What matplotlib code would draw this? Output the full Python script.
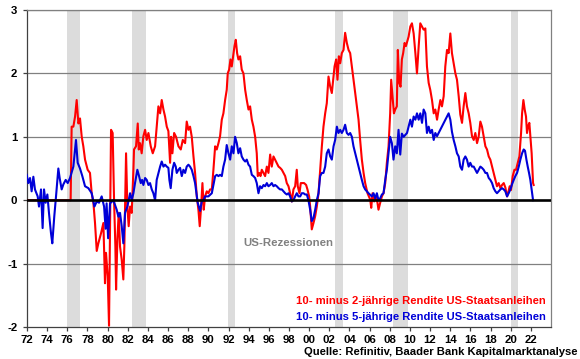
import matplotlib
matplotlib.use("Agg")
import matplotlib.pyplot as plt

plt.rcParams['font.family'] = ['Liberation Sans', 'DejaVu Sans']
plt.rcParams['font.weight'] = 'bold'
plt.rcParams['axes.unicode_minus'] = False

# ---- data ----
red_years = [1972.00, 1976.33, 1976.43, 1976.60, 1976.77, 1976.93, 1977.10, 1977.26, 1977.43, 1977.59,
             1977.76, 1978.02, 1978.25, 1978.42, 1978.59, 1978.75, 1978.92, 1979.08, 1979.35, 1979.58,
             1979.74, 1979.84, 1980.01, 1980.14, 1980.34, 1980.50, 1980.64, 1980.77, 1980.84, 1980.97,
             1981.10, 1981.23, 1981.40, 1981.56, 1981.66, 1981.83, 1981.96, 1982.09, 1982.23, 1982.39,
             1982.56, 1982.62, 1982.82, 1982.99, 1983.09, 1983.22, 1983.38, 1983.55, 1983.72, 1983.88,
             1984.05, 1984.28, 1984.48, 1984.71, 1984.87, 1985.04, 1985.21, 1985.37, 1985.54, 1985.70,
             1985.87, 1986.03, 1986.20, 1986.30, 1986.43, 1986.60, 1986.79, 1987.03, 1987.26, 1987.46,
             1987.69, 1987.85, 1988.02, 1988.18, 1988.35, 1988.52, 1988.68, 1988.85, 1989.01, 1989.14,
             1989.28, 1989.41, 1989.54, 1989.67, 1989.84, 1990.00, 1990.17, 1990.34, 1990.50, 1990.67,
             1990.83, 1991.00, 1991.16, 1991.33, 1991.49, 1991.66, 1991.82, 1991.92, 1992.06, 1992.19,
             1992.32, 1992.49, 1992.59, 1992.72, 1992.85, 1992.98, 1993.15, 1993.31, 1993.48, 1993.65,
             1993.81, 1993.98, 1994.14, 1994.31, 1994.47, 1994.64, 1994.80, 1994.90, 1995.04, 1995.17,
             1995.30, 1995.47, 1995.63, 1995.80, 1995.96, 1996.13, 1996.29, 1996.46, 1996.62, 1996.79,
             1996.96, 1997.12, 1997.29, 1997.45, 1997.62, 1997.78, 1997.95, 1998.11, 1998.28, 1998.44,
             1998.61, 1998.77, 1998.87, 1999.04, 1999.17, 1999.34, 1999.50, 1999.70, 1999.83, 2000.00,
             2000.10, 2000.26, 2000.43, 2000.60, 2000.76, 2000.93, 2001.09, 2001.26, 2001.42, 2001.59,
             2001.75, 2001.92, 2002.09, 2002.25, 2002.35, 2002.52, 2002.68, 2002.81, 2002.95, 2003.08,
             2003.24, 2003.41, 2003.57, 2003.74, 2003.91, 2004.07, 2004.24, 2004.40, 2004.57, 2004.73,
             2004.90, 2005.06, 2005.23, 2005.40, 2005.56, 2005.79, 2006.06, 2006.16, 2006.29, 2006.45,
             2006.62, 2006.78, 2006.88, 2007.05, 2007.22, 2007.38, 2007.55, 2007.71, 2007.88, 2008.04,
             2008.14, 2008.27, 2008.41, 2008.54, 2008.70, 2008.80, 2008.94, 2009.07, 2009.20, 2009.33,
             2009.47, 2009.60, 2009.87, 2010.04, 2010.20, 2010.37, 2010.54, 2010.70, 2010.87, 2011.03,
             2011.20, 2011.36, 2011.53, 2011.69, 2011.86, 2012.02, 2012.19, 2012.36, 2012.52, 2012.69,
             2012.85, 2013.02, 2013.18, 2013.35, 2013.51, 2013.68, 2013.84, 2014.01, 2014.17, 2014.34,
             2014.51, 2014.67, 2014.84, 2015.00, 2015.17, 2015.33, 2015.50, 2015.66, 2015.83, 2015.99,
             2016.16, 2016.33, 2016.49, 2016.66, 2016.82, 2016.99, 2017.15, 2017.32, 2017.49, 2017.65,
             2017.82, 2017.98, 2018.15, 2018.31, 2018.48, 2018.64, 2018.81, 2018.98, 2019.14, 2019.31,
             2019.47, 2019.64, 2019.74, 2019.90, 2020.03, 2020.20, 2020.37, 2020.53, 2020.70, 2020.86,
             2021.03, 2021.13, 2021.26, 2021.39, 2021.52, 2021.62, 2021.72, 2021.85, 2021.95, 2022.08,
             2022.22, 2022.28]
red_vals = [0.00, 0.00, 1.16, 1.16, 1.32, 1.58, 1.21, 1.29, 1.00, 0.85,
            0.64, 0.48, 0.43, 0.11, -0.04, -0.36, -0.80, -0.68, -0.52, -0.36,
            -1.31, -0.83, -1.20, -1.98, 1.11, 1.06, 0.00, -0.73, -1.41, -0.62,
            -0.20, -0.73, -0.94, -1.25, -0.73, 0.74, -0.10, -0.41, -0.10, -0.20,
            0.48, 0.80, 0.85, 1.21, 0.80, 0.90, 0.74, 1.01, 1.11, 0.95,
            1.06, 0.85, 0.74, 0.85, 1.16, 1.48, 1.37, 1.58, 1.43, 1.32,
            1.16, 1.09, 0.59, 1.00, 0.74, 1.06, 1.00, 0.85, 0.80, 0.95,
            0.90, 1.24, 1.11, 1.16, 1.00, 0.69, 0.43, 0.06, -0.15, -0.41,
            -0.10, 0.27, -0.15, 0.06, 0.14, 0.11, 0.17, 0.17, 0.48, 0.85,
            0.80, 0.90, 1.01, 1.27, 1.37, 1.58, 1.74, 2.00, 2.06, 2.22,
            2.11, 2.32, 2.43, 2.53, 2.32, 2.22, 2.27, 2.06, 2.00, 1.74,
            1.58, 1.43, 1.48, 1.27, 1.16, 1.00, 0.74, 0.38, 0.43, 0.38,
            0.48, 0.43, 0.38, 0.53, 0.43, 0.72, 0.53, 0.69, 0.64, 0.59,
            0.53, 0.51, 0.48, 0.43, 0.38, 0.27, 0.22, 0.11, -0.02, 0.17,
            0.22, 0.48, 0.22, 0.11, 0.27, 0.27, 0.27, 0.24, 0.17, 0.06,
            -0.10, -0.46, -0.36, -0.25, -0.10, 0.11, 0.48, 0.85, 1.16, 1.37,
            1.53, 1.95, 1.79, 1.69, 1.85, 2.11, 2.22, 1.90, 2.27, 2.16,
            2.32, 2.37, 2.64, 2.48, 2.37, 2.32, 2.11, 1.90, 1.69, 1.48,
            1.27, 0.95, 0.64, 0.43, 0.27, 0.11, 0.01, -0.12, 0.11, -0.02,
            0.06, -0.04, -0.15, -0.04, 0.06, 0.11, 0.27, 0.59, 0.85, 1.37,
            1.90, 1.64, 1.37, 1.43, 1.48, 2.37, 1.85, 1.79, 2.22, 2.32,
            2.48, 2.43, 2.58, 2.74, 2.79, 2.63, 2.32, 2.00, 2.43, 2.79,
            2.74, 2.69, 2.71, 2.11, 1.85, 1.74, 1.58, 1.37, 1.43, 1.27,
            1.43, 1.58, 1.48, 1.64, 2.11, 2.37, 2.32, 2.63, 2.32, 2.16,
            2.00, 1.90, 1.64, 1.35, 1.22, 1.48, 1.69, 1.48, 1.37, 1.22,
            1.01, 0.95, 1.06, 0.90, 1.00, 1.24, 1.16, 1.00, 0.85, 0.80,
            0.69, 0.64, 0.53, 0.43, 0.32, 0.22, 0.27, 0.19, 0.24, 0.27,
            0.20, 0.06, 0.11, 0.22, 0.16, 0.38, 0.48, 0.48, 0.59, 0.69,
            1.06, 1.37, 1.58, 1.43, 1.32, 1.06, 1.16, 1.22, 1.01, 0.74,
            0.27, 0.24]

blue_years = [1971.97, 1972.13, 1972.30, 1972.46, 1972.63, 1972.79, 1973.06, 1973.19, 1973.39, 1973.55,
              1973.69, 1973.85, 1974.02, 1974.18, 1974.38, 1974.51, 1974.71, 1974.88, 1975.11, 1975.24,
              1975.44, 1975.61, 1975.84, 1976.04, 1976.27, 1976.60, 1976.86, 1977.03, 1977.26, 1977.49,
              1977.76, 1978.09, 1978.42, 1978.69, 1978.92, 1979.15, 1979.41, 1979.65, 1979.80, 1979.90,
              1980.05, 1980.24, 1980.57, 1980.90, 1981.07, 1981.23, 1981.40, 1981.56, 1981.73, 1981.96,
              1982.23, 1982.39, 1982.56, 1982.72, 1982.95, 1983.12, 1983.29, 1983.42, 1983.55, 1983.72,
              1983.88, 1984.05, 1984.21, 1984.38, 1984.54, 1984.71, 1984.87, 1985.21, 1985.37, 1985.54,
              1985.70, 1985.87, 1986.03, 1986.13, 1986.26, 1986.43, 1986.60, 1986.76, 1986.86, 1987.03,
              1987.19, 1987.36, 1987.52, 1987.69, 1987.85, 1988.02, 1988.18, 1988.35, 1988.52, 1988.68,
              1988.94, 1989.18, 1989.34, 1989.51, 1989.67, 1990.00, 1990.34, 1990.50, 1990.67, 1990.83,
              1991.00, 1991.16, 1991.33, 1991.49, 1991.66, 1991.82, 1991.99, 1992.16, 1992.32, 1992.49,
              1992.65, 1992.82, 1992.98, 1993.15, 1993.31, 1993.48, 1993.65, 1993.81, 1993.98, 1994.14,
              1994.31, 1994.47, 1994.64, 1994.80, 1994.97, 1995.13, 1995.30, 1995.47, 1995.63, 1995.80,
              1995.96, 1996.13, 1996.29, 1996.46, 1996.62, 1996.79, 1996.96, 1997.12, 1997.29, 1997.45,
              1997.62, 1997.78, 1997.95, 1998.11, 1998.28, 1998.44, 1998.61, 1998.77, 1998.94, 1999.11,
              1999.27, 1999.44, 1999.60, 1999.77, 1999.93, 2000.10, 2000.26, 2000.43, 2000.60, 2000.76,
              2000.93, 2001.09, 2001.26, 2001.42, 2001.59, 2001.75, 2001.92, 2002.09, 2002.25, 2002.42,
              2002.58, 2002.75, 2002.91, 2003.08, 2003.24, 2003.41, 2003.57, 2003.74, 2003.91, 2004.07,
              2004.24, 2004.40, 2004.57, 2004.73, 2004.90, 2005.06, 2005.23, 2005.40, 2005.56, 2005.89,
              2006.22, 2006.39, 2006.55, 2006.72, 2006.88, 2007.05, 2007.22, 2007.38, 2007.55, 2007.71,
              2007.88, 2008.04, 2008.21, 2008.37, 2008.54, 2008.70, 2008.87, 2009.04, 2009.20, 2009.38,
              2009.71, 2009.87, 2010.04, 2010.20, 2010.37, 2010.54, 2010.70, 2010.87, 2011.03, 2011.20,
              2011.36, 2011.53, 2011.69, 2011.86, 2012.02, 2012.19, 2012.36, 2012.52, 2012.69, 2012.85,
              2013.02, 2013.18, 2013.35, 2013.51, 2013.68, 2013.84, 2014.01, 2014.17, 2014.34, 2014.51,
              2014.67, 2014.84, 2015.00, 2015.17, 2015.33, 2015.50, 2015.66, 2015.83, 2015.99, 2016.16,
              2016.33, 2016.49, 2016.66, 2016.82, 2016.99, 2017.15, 2017.32, 2017.49, 2017.65, 2017.82,
              2017.98, 2018.15, 2018.31, 2018.48, 2018.64, 2018.81, 2018.98, 2019.14, 2019.31, 2019.47,
              2019.64, 2019.80, 2019.97, 2020.13, 2020.30, 2020.46, 2020.63, 2020.80, 2020.96, 2021.13,
              2021.29, 2021.42, 2021.56, 2021.69, 2021.82, 2021.95, 2022.08, 2022.22]
blue_vals = [0.40, 0.27, 0.35, 0.14, 0.37, 0.17, 0.06, -0.10, 0.17, -0.44,
             0.17, -0.04, 0.09, -0.20, -0.52, -0.68, -0.25, 0.06, 0.50, 0.35,
             0.17, 0.25, 0.32, 0.27, 0.35, 0.53, 0.95, 0.59, 0.50, 0.38,
             0.22, 0.19, 0.11, -0.10, -0.02, -0.04, 0.06, -0.10, -0.45, -0.05,
             -0.60, -0.05, 0.00, -0.15, -0.26, -0.20, -0.41, -0.68, -0.20, -0.10,
             0.11, 0.00, 0.11, 0.27, 0.48, 0.38, 0.27, 0.32, 0.24, 0.35,
             0.32, 0.24, 0.27, 0.17, 0.11, 0.00, 0.32, 0.53, 0.61, 0.53,
             0.56, 0.53, 0.51, 0.32, 0.19, 0.48, 0.59, 0.53, 0.43, 0.48,
             0.51, 0.38, 0.48, 0.43, 0.53, 0.56, 0.53, 0.48, 0.38, 0.27,
             -0.04, -0.17, -0.02, 0.00, 0.06, 0.06, 0.11, 0.24, 0.38, 0.40,
             0.38, 0.40, 0.38, 0.53, 0.64, 0.87, 0.74, 0.64, 0.85, 0.74,
             1.00, 0.90, 0.74, 0.82, 0.69, 0.64, 0.61, 0.64, 0.56, 0.53,
             0.40, 0.38, 0.35, 0.27, 0.11, 0.22, 0.19, 0.24, 0.22, 0.27,
             0.22, 0.24, 0.27, 0.22, 0.24, 0.22, 0.19, 0.17, 0.17, 0.14,
             0.11, 0.09, 0.11, 0.06, -0.02, 0.00, 0.06, 0.11, 0.06, 0.06,
             0.11, 0.11, 0.09, 0.09, 0.00, -0.15, -0.33, -0.28, -0.15, 0.00,
             0.11, 0.38, 0.43, 0.43, 0.53, 0.74, 0.80, 0.69, 0.64, 0.85,
             0.95, 1.16, 1.06, 1.11, 1.06, 1.11, 1.19, 1.06, 1.03, 1.06,
             1.00, 0.85, 0.74, 0.64, 0.53, 0.43, 0.32, 0.22, 0.17, 0.11,
             0.06, 0.11, 0.03, 0.11, 0.00, 0.03, 0.09, 0.11, 0.32, 0.48,
             0.74, 1.00, 0.90, 0.64, 0.85, 0.74, 1.11, 0.72, 1.05, 1.00,
             1.06, 1.16, 1.27, 1.16, 1.32, 1.27, 1.37, 1.27, 1.37, 1.22,
             1.43, 1.37, 1.06, 1.16, 1.06, 1.11, 0.95, 1.06, 1.01, 1.06,
             1.11, 1.16, 1.22, 1.27, 1.32, 1.37, 1.27, 1.08, 0.95, 0.85,
             0.74, 0.69, 0.53, 0.48, 0.64, 0.69, 0.64, 0.53, 0.59, 0.53,
             0.53, 0.48, 0.43, 0.48, 0.53, 0.51, 0.48, 0.43, 0.43, 0.35,
             0.32, 0.27, 0.19, 0.14, 0.11, 0.14, 0.17, 0.19, 0.17, 0.14,
             0.06, 0.11, 0.17, 0.25, 0.32, 0.38, 0.43, 0.53, 0.64, 0.74,
             0.80, 0.78, 0.64, 0.53, 0.43, 0.32, 0.17, 0.00]

recessions = [(1975.97, 1977.26), (1982.46, 1983.78), (1991.97, 1992.63),
              (2002.52, 2003.33), (2008.30, 2009.78), (2020.07, 2020.72)]

x_ticks = list(range(1972, 2023, 2))
x_ticklabels = ['%02d' % (y % 100) for y in x_ticks]
y_ticks = [-2, -1, 0, 1, 2, 3]

label_red = '10- minus 2-jährige Rendite US-Staatsanleihen'
label_blue = '10- minus 5-jährige Rendite US-Staatsanleihen'
rec_label = 'US-Rezessionen'
source = 'Quelle: Refinitiv, Baader Bank Kapitalmarktanalyse'

# ---- figure ----
W, H = 580, 359
fig = plt.figure(figsize=(W / 100, H / 100), dpi=100)
L, R, T, B = 27, 551, 10, 327
ax = fig.add_axes([L / W, 1 - B / H, (R - L) / W, (B - T) / H])

for a, b in recessions:
    ax.axvspan(a, b, color='#dcdcdc', lw=0, zorder=0)

for yv in [-1, 1, 2, 3]:
    ax.axhline(yv, color='#808080', lw=0.9, zorder=1)

ax.plot(red_years, red_vals, color='#ff0000', lw=1.5, zorder=3)
ax.plot(blue_years, blue_vals, color='#0000d8', lw=1.5, zorder=4)
ax.axhline(0, color='black', lw=1.9, zorder=5)

ax.set_xlim(1972, 2024)
ax.set_ylim(-2, 3)
ax.set_xticks(x_ticks)
ax.set_xticklabels(x_ticklabels)
ax.set_yticks(y_ticks)
ax.set_yticklabels([str(v) for v in y_ticks])
ax.tick_params(axis='both', direction='out', length=3, width=0.9, color='#404040',
               labelsize=8.2, labelcolor='black')
ax.tick_params(axis='x', pad=3)
ax.tick_params(axis='y', pad=4)
for lab in ax.get_xticklabels() + ax.get_yticklabels():
    lab.set_fontweight('bold')

for s in ['left', 'bottom']:
    ax.spines[s].set_color('#404040')
    ax.spines[s].set_linewidth(0.9)
for s in ['top', 'right']:
    ax.spines[s].set_color('#808080')
    ax.spines[s].set_linewidth(0.9)

def px(x, y):
    return x / W, 1 - y / H

fig.text(*px(288, 243), rec_label, color='#808080', fontsize=8.2, fontweight='bold',
         ha='center', va='center')
fig.text(*px(546, 301.5), label_red, color='#ff0000', fontsize=8.1, fontweight='bold',
         ha='right', va='center')
fig.text(*px(546, 316.5), label_blue, color='#0000d8', fontsize=8.1, fontweight='bold',
         ha='right', va='center')
fig.text(*px(577, 352), source, color='black', fontsize=8.1, fontweight='bold',
         ha='right', va='center')

fig.savefig('out.png', dpi=100)
